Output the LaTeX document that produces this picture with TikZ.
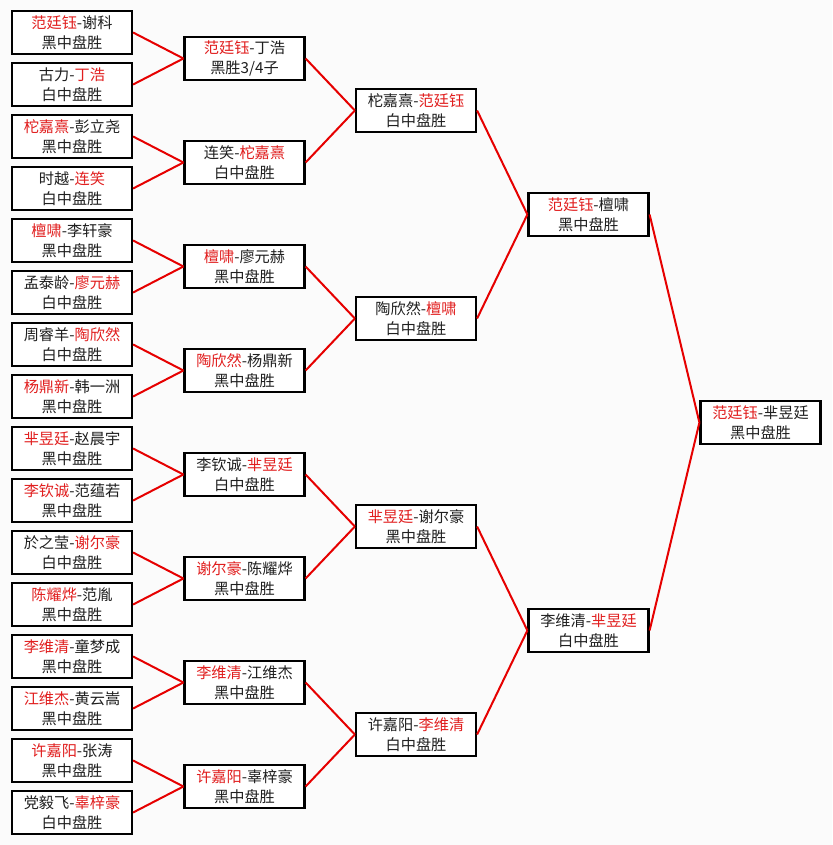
\documentclass[tikz,border=0pt]{standalone}
\usepackage{fontspec}
\setmainfont{Noto Sans CJK SC}
\definecolor{wred}{RGB}{225,30,30}
\definecolor{lred}{RGB}{230,0,0}
\definecolor{bg}{RGB}{251,251,251}
\newcommand\rn[1]{\textcolor{wred}{#1}}
\tikzset{
  game/.style={draw=black, line width=2.2pt, fill=white, inner sep=0pt,
    minimum width=120pt, minimum height=43pt, align=center,
    font=\fontsize{15.2}{20}\selectfont, text=black!88},
  conn/.style={draw=lred, line width=2pt}
}
\begin{document}
\begin{tikzpicture}[x=1pt,y=-1pt]
\fill[bg] (0,0) rectangle (832,845);
\useasboundingbox (0,0) rectangle (832,845);
% column 1
\node[game] (a1)  at (72, 32.5) {\rn{范廷钰}-谢科\\黑中盘胜};
\node[game] (a2)  at (72, 84.5) {古力-\rn{丁浩}\\白中盘胜};
\node[game] (a3)  at (72,136.5) {\rn{柁嘉熹}-彭立尧\\黑中盘胜};
\node[game] (a4)  at (72,188.5) {时越-\rn{连笑}\\白中盘胜};
\node[game] (a5)  at (72,240.5) {\rn{檀啸}-李轩豪\\黑中盘胜};
\node[game] (a6)  at (72,292.5) {孟泰龄-\rn{廖元赫}\\白中盘胜};
\node[game] (a7)  at (72,344.5) {周睿羊-\rn{陶欣然}\\白中盘胜};
\node[game] (a8)  at (72,396.5) {\rn{杨鼎新}-韩一洲\\黑中盘胜};
\node[game] (a9)  at (72,448.5) {\rn{芈昱廷}-赵晨宇\\黑中盘胜};
\node[game] (a10) at (72,500.5) {\rn{李钦诚}-范蕴若\\黑中盘胜};
\node[game] (a11) at (72,552.5) {於之莹-\rn{谢尔豪}\\白中盘胜};
\node[game] (a12) at (72,604.5) {\rn{陈耀烨}-范胤\\黑中盘胜};
\node[game] (a13) at (72,656.5) {\rn{李维清}-童梦成\\黑中盘胜};
\node[game] (a14) at (72,708.5) {\rn{江维杰}-黄云嵩\\黑中盘胜};
\node[game] (a15) at (72,760.5) {\rn{许嘉阳}-张涛\\黑中盘胜};
\node[game] (a16) at (72,812.5) {党毅飞-\rn{辜梓豪}\\白中盘胜};
% column 2
\node[game] (b1) at (244.5, 58.5) {\rn{范廷钰}-丁浩\\黑胜3/4子};
\node[game] (b2) at (244.5,162.5) {连笑-\rn{柁嘉熹}\\白中盘胜};
\node[game] (b3) at (244.5,266.5) {\rn{檀啸}-廖元赫\\黑中盘胜};
\node[game] (b4) at (244.5,370.5) {\rn{陶欣然}-杨鼎新\\黑中盘胜};
\node[game] (b5) at (244.5,474.5) {李钦诚-\rn{芈昱廷}\\白中盘胜};
\node[game] (b6) at (244.5,578.5) {\rn{谢尔豪}-陈耀烨\\黑中盘胜};
\node[game] (b7) at (244.5,682.5) {\rn{李维清}-江维杰\\黑中盘胜};
\node[game] (b8) at (244.5,786.5) {\rn{许嘉阳}-辜梓豪\\黑中盘胜};
% column 3
\node[game] (c1) at (416,110.5) {柁嘉熹-\rn{范廷钰}\\白中盘胜};
\node[game] (c2) at (416,318.5) {陶欣然-\rn{檀啸}\\白中盘胜};
\node[game] (c3) at (416,526.5) {\rn{芈昱廷}-谢尔豪\\黑中盘胜};
\node[game] (c4) at (416,734.5) {许嘉阳-\rn{李维清}\\白中盘胜};
% column 4
\node[game] (d1) at (588.5,214.5) {\rn{范廷钰}-檀啸\\黑中盘胜};
\node[game] (d2) at (588.5,630.5) {李维清-\rn{芈昱廷}\\白中盘胜};
% column 5
\node[game] (e1) at (760.5,422.5) {\rn{范廷钰}-芈昱廷\\黑中盘胜};
% connectors
\foreach \i/\p in {1/1,2/1,3/2,4/2,5/3,6/3,7/4,8/4,9/5,10/5,11/6,12/6,13/7,14/7,15/8,16/8}
  \draw[conn] (a\i.east) -- (b\p.west);
\foreach \i/\p in {1/1,2/1,3/2,4/2,5/3,6/3,7/4,8/4}
  \draw[conn] (b\i.east) -- (c\p.west);
\foreach \i/\p in {1/1,2/1,3/2,4/2}
  \draw[conn] (c\i.east) -- (d\p.west);
\foreach \i in {1,2}
  \draw[conn] (d\i.east) -- (e1.west);
\end{tikzpicture}
\end{document}
